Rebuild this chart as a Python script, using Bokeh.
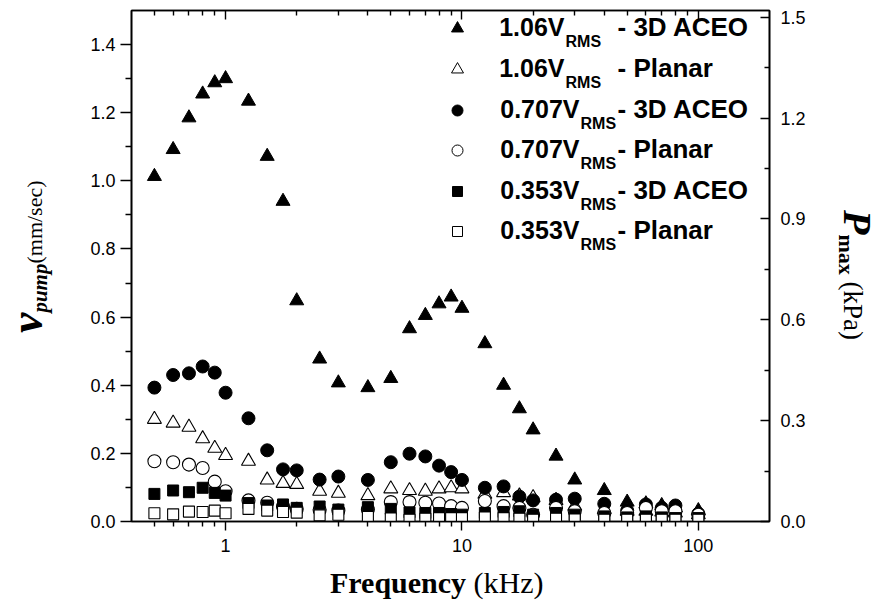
import math
from bokeh.plotting import figure
from bokeh.models import Range1d, LinearAxis, LogAxis, FixedTicker, Label, PrintfTickFormatter, Div
from bokeh.layouts import row, column
from bokeh.embed import file_html
from bokeh.resources import INLINE

# ---------------- data ----------------
freq = [0.5, 0.6, 0.7, 0.8, 0.9, 1.0, 1.25, 1.5, 1.75, 2, 2.5, 3, 4, 5, 6, 7, 8, 9, 10,
        12.5, 15, 17.5, 20, 25, 30, 40, 50, 60, 70, 80, 100]
v106_3d = [1.013, 1.092, 1.185, 1.255, 1.288, 1.300, 1.234, 1.072, 0.940, 0.648, 0.477, 0.407,
           0.393, 0.420, 0.566, 0.605, 0.639, 0.659, 0.626, 0.522, 0.400, 0.331, 0.269, 0.192,
           0.122, 0.091, 0.057, 0.052, 0.047, 0.040, 0.032]
v106_pl = [0.300, 0.289, 0.277, 0.243, 0.215, 0.194, 0.177, 0.122, 0.112, 0.109, 0.089, 0.083,
           0.076, 0.096, 0.091, 0.089, 0.096, 0.099, 0.096, 0.080, 0.085, 0.075, 0.070, 0.062,
           0.045, 0.035, 0.030, 0.030, 0.028, 0.025, 0.020]
v707_3d = [0.393, 0.430, 0.435, 0.455, 0.437, 0.378, 0.303, 0.209, 0.153, 0.150, 0.123, 0.132,
           0.122, 0.174, 0.199, 0.191, 0.164, 0.145, 0.122, 0.099, 0.103, 0.073, 0.062, 0.064,
           0.067, 0.052, 0.032, 0.050, 0.040, 0.047, 0.023]
v707_pl = [0.177, 0.174, 0.167, 0.157, 0.117, 0.089, 0.062, 0.055, 0.044, 0.037, 0.034, 0.032,
           0.035, 0.057, 0.057, 0.055, 0.053, 0.045, 0.040, 0.060, 0.045, 0.040, 0.020, 0.040,
           0.030, 0.025, 0.025, 0.040, 0.030, 0.030, 0.020]
v353_3d = [0.081, 0.091, 0.086, 0.099, 0.084, 0.076, 0.054, 0.047, 0.050, 0.040, 0.044, 0.035,
           0.042, 0.037, 0.027, 0.025, 0.025, 0.022, 0.020, 0.025, 0.028, 0.030, 0.020, 0.025,
           0.020, 0.015, 0.012, 0.015, 0.012, 0.010, 0.010]
v353_pl = [0.024, 0.021, 0.029, 0.028, 0.032, 0.024, 0.037, 0.032, 0.028, 0.026, 0.018, 0.020,
           0.013, 0.009, 0.005, 0.008, 0.010, 0.010, 0.010, 0.012, 0.010, 0.008, 0.005, 0.008,
           0.006, 0.005, 0.005, 0.005, 0.005, 0.005, 0.005]

legend_main = ["1.06V", "1.06V", "0.707V", "0.707V", "0.353V", "0.353V"]
legend_sub = ["RMS"] * 6
legend_suffix = ["- 3D ACEO", "- Planar", "- 3D ACEO", "- Planar", "- 3D ACEO", "- Planar"]

x_title = ("Frequency", "(kHz)")
yl_title = ("v", "pump", "(mm/sec)")
yr_title = ("P", "max", "(kPa)")

x_major = [1, 10, 100]
x_minor = [0.5, 0.6, 0.7, 0.8, 0.9, 2, 3, 4, 5, 6, 7, 8, 9, 20, 30, 40, 50, 60, 70, 80, 90]
yl_major = [0.0, 0.2, 0.4, 0.6, 0.8, 1.0, 1.2, 1.4]
yl_minor = [0.1, 0.3, 0.5, 0.7, 0.9, 1.1, 1.3]
yr_major = [0.0, 0.3, 0.6, 0.9, 1.2, 1.5]
yr_minor = [0.15, 0.45, 0.75, 1.05, 1.35]

# ---------------- layout (page pixels) ----------------
TOTAL_W, TOTAL_H = 872, 600
LEFT_W, RIGHT_W = 56, 36
PLOT_W = TOTAL_W - LEFT_W - RIGHT_W
PLOT_H = 566
BOTTOM_H = TOTAL_H - PLOT_H
FL, FR, FT, FB = 131, 769, 10, 521        # frame edges in page pixels
X0, X1 = 0.4, 200.0
Y0, Y1 = 0.0, 1.5
YR0, YR1 = 0.0, 1.52

def dx(px):
    f = (px - FL) / (FR - FL)
    return 10 ** (math.log10(X0) + f * (math.log10(X1) - math.log10(X0)))

def dy(py):
    f = (FB - py) / (FB - FT)
    return Y0 + f * (Y1 - Y0)

p = figure(width=PLOT_W, height=PLOT_H, x_axis_type="log",
           x_range=Range1d(X0, X1), y_range=Range1d(Y0, Y1),
           output_backend="svg", toolbar_location=None,
           min_border_left=FL - LEFT_W, min_border_right=LEFT_W + PLOT_W - FR,
           min_border_top=FT, min_border_bottom=PLOT_H - FB, margin=(0, 0, 0, 0))
p.extra_y_ranges = {"right": Range1d(YR0, YR1)}
p.grid.visible = False
p.outline_line_color = "black"
p.outline_line_width = 1.6
p.background_fill_color = "white"
p.border_fill_color = "white"

TICKFONT = "Liberation Sans"

def style_axis(ax):
    ax.axis_line_color = "black"
    ax.axis_line_width = 1.6
    ax.major_tick_line_color = "black"
    ax.minor_tick_line_color = "black"
    ax.major_tick_line_width = 1.4
    ax.minor_tick_line_width = 1.4
    ax.major_label_text_font = TICKFONT
    ax.major_label_text_font_size = "18px"
    ax.major_label_text_color = "black"
    ax.axis_label = None

xb = p.xaxis[0]
style_axis(xb)
xb.ticker = FixedTicker(ticks=x_major, minor_ticks=x_minor)
xb.formatter = PrintfTickFormatter(format="%d")
xb.major_tick_out, xb.major_tick_in = 9, 0
xb.minor_tick_out, xb.minor_tick_in = 5, 0
xb.major_label_standoff = 8

yl = p.yaxis[0]
style_axis(yl)
yl.ticker = FixedTicker(ticks=yl_major, minor_ticks=yl_minor)
yl.formatter = PrintfTickFormatter(format="%.1f")
yl.major_tick_out, yl.major_tick_in = 11, 0
yl.minor_tick_out, yl.minor_tick_in = 6, 0
yl.major_label_standoff = 5

yr = LinearAxis(y_range_name="right")
style_axis(yr)
yr.ticker = FixedTicker(ticks=yr_major, minor_ticks=yr_minor)
yr.formatter = PrintfTickFormatter(format="%.1f")
yr.major_tick_out, yr.major_tick_in = 0, 9
yr.minor_tick_out, yr.minor_tick_in = 0, 5
yr.major_label_standoff = 11
p.add_layout(yr, "right")

xt = LogAxis()
style_axis(xt)
xt.ticker = FixedTicker(ticks=x_major, minor_ticks=x_minor)
xt.major_tick_out, xt.major_tick_in = 0, 9
xt.minor_tick_out, xt.minor_tick_in = 0, 5
xt.major_label_text_font_size = "1px"
xt.major_label_overrides = {1: " ", 10: " ", 100: " "}
xt.major_label_standoff = 0
p.add_layout(xt, "above")

# ---------------- data markers ----------------
p.scatter(freq, v106_3d, marker="triangle", size=14, fill_color="black", line_color="black")
p.scatter(freq, v106_pl, marker="triangle", size=14, fill_color="white", line_color="black", line_width=1.1)
p.scatter(freq, v707_3d, marker="circle", size=13, fill_color="black", line_color="black")
p.scatter(freq, v707_pl, marker="circle", size=13, fill_color="white", line_color="black", line_width=1.1)
p.scatter(freq, v353_3d, marker="square", size=11, fill_color="black", line_color="black")
p.scatter(freq, v353_pl, marker="square", size=11, fill_color="white", line_color="black", line_width=1.1)

# ---------------- legend (drawn by hand for subscripts) ----------------
row_y = [28, 69, 110, 150, 191, 231]
leg_marker_x = 457
rms_x = [565, 565, 580, 580, 580, 580]
suffix_x = 617
leg_markers = [("triangle", "black", 12), ("triangle", "white", 12), ("circle", "black", 11),
               ("circle", "white", 11), ("square", "black", 10), ("square", "white", 10)]
LEGFONT = "Liberation Sans"
for i, (mk, fc, sz) in enumerate(leg_markers):
    yc = row_y[i]
    p.scatter([dx(leg_marker_x)], [dy(yc)], marker=mk, size=sz, fill_color=fc,
              line_color="black", line_width=1.0)
    p.add_layout(Label(x=dx(rms_x[i] - 1), y=dy(yc - 2), text=legend_main[i], text_align="right",
                       text_baseline="alphabetic", text_font=LEGFONT, text_font_style="bold",
                       text_font_size="25px", text_color="black"))
    p.add_layout(Label(x=dx(rms_x[i]), y=dy(yc + 13), text=legend_sub[i], text_align="left",
                       text_baseline="alphabetic", text_font=LEGFONT, text_font_style="bold",
                       text_font_size="16px", text_color="black"))
    p.add_layout(Label(x=dx(suffix_x), y=dy(yc - 2), text=legend_suffix[i], text_align="left",
                       text_baseline="alphabetic", text_font=LEGFONT, text_font_style="bold",
                       text_font_size="26px", text_color="black"))

# ---------------- axis titles as HTML text around the plot ----------------
SERIF = "'Liberation Serif', 'Times New Roman', serif"

left_html = (
    f'<div style="position:relative;width:{LEFT_W}px;height:{PLOT_H}px;">'
    f'<div style="position:absolute;left:4px;top:333px;transform-origin:0 0;'
    f'transform:rotate(-90deg);white-space:nowrap;font-family:{SERIF};font-size:46px;'
    f'line-height:1;color:black;">'
    f'<span style="font-weight:bold;font-style:italic;font-size:46px;">{yl_title[0]}</span>'
    f'<span style="font-weight:bold;font-style:italic;font-size:21px;vertical-align:-5px;">{yl_title[1]}</span>'
    f'<span style="font-size:22px;">{yl_title[2]}</span>'
    f'</div></div>'
)
right_html = (
    f'<div style="position:relative;width:{RIGHT_W}px;height:{PLOT_H}px;">'
    f'<div style="position:absolute;left:41px;top:210px;transform-origin:0 0;'
    f'transform:rotate(90deg);white-space:nowrap;font-family:{SERIF};font-size:40px;'
    f'line-height:1;color:black;">'
    f'<span style="font-weight:bold;font-style:italic;font-size:40px;">{yr_title[0]}</span>'
    f'<span style="font-weight:bold;font-size:22px;vertical-align:-5px;">{yr_title[1]}</span>'
    f'<span style="font-size:27px;">&nbsp;{yr_title[2]}</span>'
    f'</div></div>'
)
bottom_html = (
    f'<div style="position:relative;width:{TOTAL_W}px;height:{BOTTOM_H}px;">'
    f'<div style="position:absolute;left:330px;top:2px;white-space:nowrap;font-family:{SERIF};'
    f'font-size:30px;line-height:1;color:black;">'
    f'<span style="font-weight:bold;">{x_title[0]}</span> <span>{x_title[1]}</span>'
    f'</div></div>'
)

left_div = Div(text=left_html, width=LEFT_W, height=PLOT_H, margin=(0, 0, 0, 0))
right_div = Div(text=right_html, width=RIGHT_W, height=PLOT_H, margin=(0, 0, 0, 0))
bottom_div = Div(text=bottom_html, width=TOTAL_W, height=BOTTOM_H, margin=(0, 0, 0, 0))

root = column(row(left_div, p, right_div, spacing=0), bottom_div, spacing=0)

open("out.html", "w").write(file_html(root, INLINE))
